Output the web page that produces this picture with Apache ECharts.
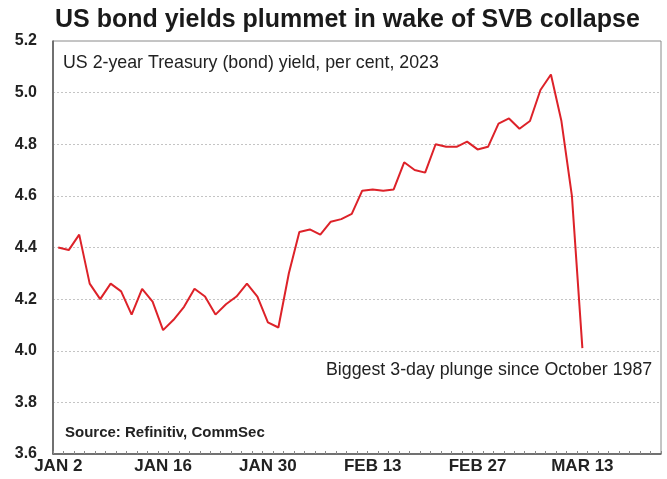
<!DOCTYPE html>
<html>
<head>
<meta charset="utf-8">
<script src="https://cdn.jsdelivr.net/npm/echarts@6/dist/echarts.min.js"></script>
<style>
html,body{margin:0;padding:0;background:#fff;}
#c{width:667px;height:479px;}
</style>
</head>
<body>
<div id="c"></div>
<script>
var categories = [
 "JAN 2","JAN 3","JAN 4","JAN 5","JAN 6",
 "JAN 9","JAN 10","JAN 11","JAN 12","JAN 13",
 "JAN 16","JAN 17","JAN 18","JAN 19","JAN 20",
 "JAN 23","JAN 24","JAN 25","JAN 26","JAN 27",
 "JAN 30","JAN 31","FEB 1","FEB 2","FEB 3",
 "FEB 6","FEB 7","FEB 8","FEB 9","FEB 10",
 "FEB 13","FEB 14","FEB 15","FEB 16","FEB 17",
 "FEB 20","FEB 21","FEB 22","FEB 23","FEB 24",
 "FEB 27","FEB 28","MAR 1","MAR 2","MAR 3",
 "MAR 6","MAR 7","MAR 8","MAR 9","MAR 10",
 "MAR 13","MAR 14","MAR 15","MAR 16","MAR 17",
 "MAR 20","MAR 21","MAR 22"
];
var yields = [
 4.40,4.39,4.45,4.26,4.20,
 4.26,4.23,4.14,4.24,4.19,
 4.08,4.12,4.17,4.24,4.21,
 4.14,4.18,4.21,4.26,4.21,
 4.11,4.09,4.30,4.46,4.47,
 4.45,4.50,4.51,4.53,4.62,
 4.625,4.62,4.625,4.73,4.70,
 4.69,4.80,4.79,4.79,4.81,
 4.78,4.79,4.88,4.90,4.86,
 4.89,5.01,5.07,4.89,4.60,
 4.01
];
var yTicks = [3.6,3.8,4.0,4.2,4.4,4.6,4.8,5.0,5.2];

var chart = echarts.init(document.getElementById('c'), null, {renderer:'canvas'});
var FONT = '"Liberation Sans", Arial, sans-serif';
chart.setOption({
  animation:false,
  backgroundColor:'#fff',
  title:[
    {text:'US bond yields plummet in wake of SVB collapse', left:50, top:3,
     textStyle:{fontFamily:FONT, fontWeight:'bold', fontSize:25, color:'#1a1a1a'}},
    {text:'US 2-year Treasury (bond) yield, per cent, 2023', left:58, top:49,
     textStyle:{fontFamily:FONT, fontWeight:'normal', fontSize:17.8, color:'#222'}},
    {text:'Biggest 3-day plunge since October 1987', left:321, top:356,
     textStyle:{fontFamily:FONT, fontWeight:'normal', fontSize:17.8, color:'#222'}},
    {text:'Source: Refinitiv, CommSec', left:60, top:420,
     textStyle:{fontFamily:FONT, fontWeight:'bold', fontSize:15, color:'#222'}}
  ],
  grid:{left:53, right:6, top:41, bottom:25, show:true, borderColor:'#8a8a8a', borderWidth:1},
  xAxis:{
    type:'category', data:categories, boundaryGap:true,
    axisLine:{show:true, lineStyle:{color:'#555', width:1.5}},
    axisTick:{show:true, interval:0, inside:true, length:3, lineStyle:{color:'#888'}},
    axisLabel:{interval:9, margin:4, fontFamily:FONT, fontWeight:'bold', fontSize:17, color:'#222'},
    splitLine:{show:false}
  },
  yAxis:{
    type:'value', min:3.6, max:5.2, interval:0.2,
    axisLine:{show:true, lineStyle:{color:'#555', width:1.5}},
    axisTick:{show:false},
    axisLabel:{margin:16, fontFamily:FONT, fontWeight:'bold', fontSize:16, color:'#222',
      formatter:function(v){return (Math.round(v*10)/10).toFixed(1);}},
    splitLine:{show:true, lineStyle:{color:'#c4c4c4', type:[2,2], width:1}}
  },
  series:[{
    type:'line', data:yields, symbol:'none', smooth:false,
    lineStyle:{color:'#dd2229', width:2}
  }]
});
</script>
</body>
</html>
